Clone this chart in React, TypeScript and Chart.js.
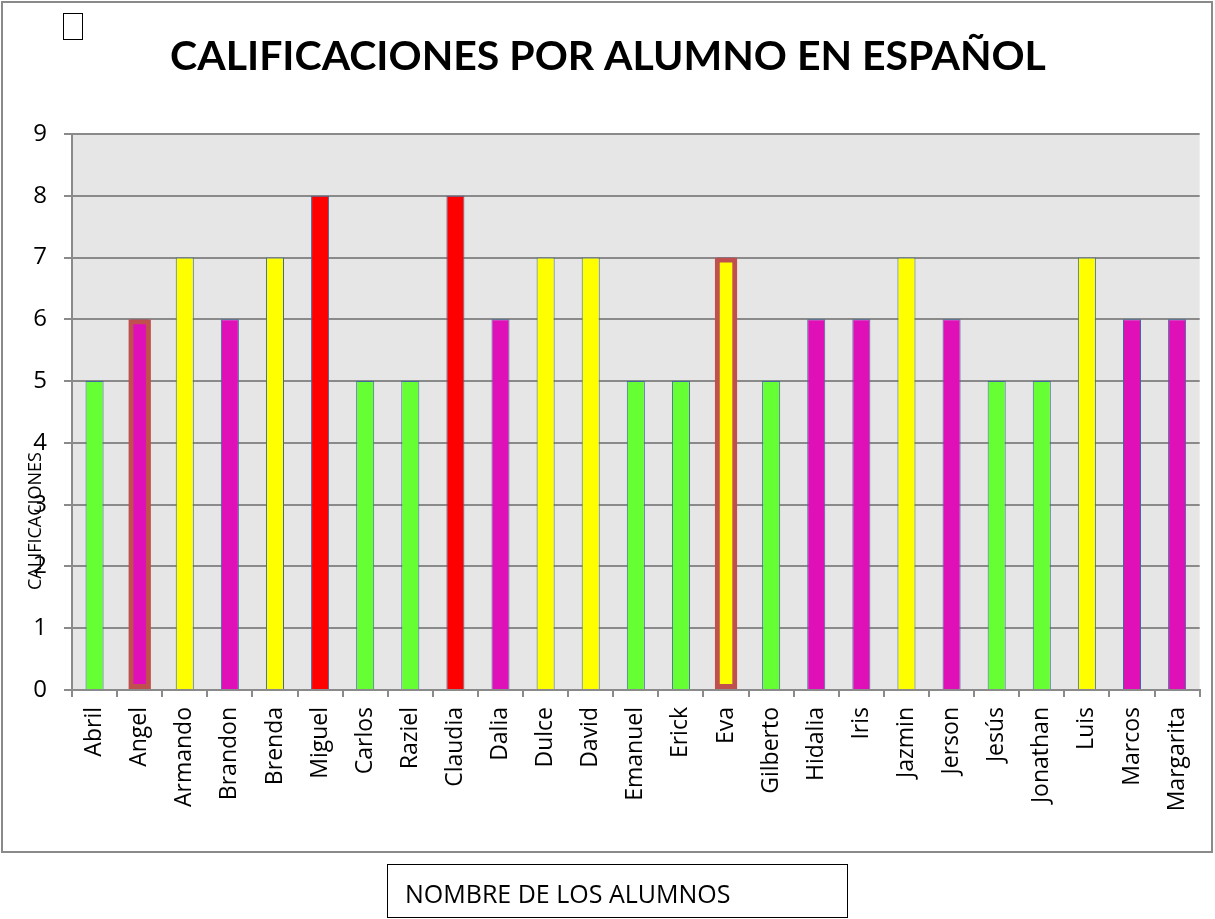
import React, { useEffect, useRef } from "react";
import { Chart, registerables } from "chart.js";

Chart.register(...registerables);

const students = [
  "Abril", "Angel", "Armando", "Brandon", "Brenda", "Miguel", "Carlos", "Raziel",
  "Claudia", "Dalia", "Dulce", "David", "Emanuel", "Erick", "Eva", "Gilberto",
  "Hidalia", "Iris", "Jazmin", "Jerson", "Jesús", "Jonathan", "Luis", "Marcos", "Margarita",
];
const grades = [5, 6, 7, 6, 7, 8, 5, 5, 8, 6, 7, 7, 5, 5, 7, 5, 6, 6, 7, 6, 5, 5, 7, 6, 6];
const highlighted = ["Angel", "Eva"];
const gradeColors: Record<number, string> = {
  5: "#66FF33",
  6: "#E010B9",
  7: "#FFFF00",
  8: "#FF0000",
};
const yMin = 0;
const yMax = 9;
const titleText = "CALIFICACIONES POR ALUMNO EN ESPAÑOL";
const yAxisTitle = "CALIFICACIONES";
const xAxisTitle = "NOMBRE DE LOS ALUMNOS";

const TITLE_FONT = "Lato";
const FONT = "'Open Sans'";

const decorPlugin = {
  id: "decor",
  beforeDraw(chart: any) {
    const { ctx, chartArea, width, height } = chart;
    ctx.save();
    ctx.fillStyle = "#FFFFFF";
    ctx.fillRect(0, 0, width, height);
    ctx.fillStyle = "#E6E6E6";
    ctx.fillRect(chartArea.left, chartArea.top, chartArea.right - chartArea.left, chartArea.bottom - chartArea.top);
    // outer frame
    ctx.strokeStyle = "#8A8A8A";
    ctx.lineWidth = 2;
    ctx.strokeRect(2, 2, 1210, 850);
    ctx.restore();
  },
  afterDraw(chart: any) {
    const { ctx } = chart;
    ctx.save();
    // small empty square
    ctx.strokeStyle = "#000000";
    ctx.lineWidth = 1;
    ctx.strokeRect(63.5, 13.5, 19, 26);
    // title
    ctx.fillStyle = "#000000";
    ctx.font = `bold 41px ${TITLE_FONT}`;
    ctx.textAlign = "center";
    ctx.textBaseline = "alphabetic";
    ctx.fillText(titleText, 608, 70);
    // y axis title
    ctx.save();
    ctx.translate(41, 521);
    ctx.rotate(-Math.PI / 2);
    ctx.font = `18px ${FONT}`;
    ctx.textAlign = "center";
    ctx.textBaseline = "alphabetic";
    ctx.fillText(yAxisTitle, 0, 0);
    ctx.restore();
    // bottom box
    ctx.fillStyle = "#FFFFFF";
    ctx.fillRect(387, 864, 461, 54);
    ctx.strokeStyle = "#000000";
    ctx.lineWidth = 1;
    ctx.strokeRect(387.5, 864.5, 460, 53);
    ctx.fillStyle = "#000000";
    ctx.font = `25px ${FONT}`;
    ctx.textAlign = "left";
    ctx.fillText(xAxisTitle, 405, 903);
    ctx.restore();
  },
};

export default function App() {
  const ref = useRef<HTMLCanvasElement | null>(null);
  useEffect(() => {
    if (!ref.current) return;
    const overlay = students.map((s, i) => (highlighted.includes(s) ? grades[i] : null));
    const chart = new Chart(ref.current, {
      type: "bar",
      data: {
        labels: students,
        datasets: [
          {
            data: grades,
            backgroundColor: grades.map((g) => gradeColors[g]),
            borderColor: "#41699A",
            borderWidth: 1,
            barPercentage: 0.4,
            categoryPercentage: 1,
            grouped: false,
            order: 2,
          },
          {
            data: overlay,
            backgroundColor: "rgba(0,0,0,0)",
            borderColor: "#C0504D",
            borderWidth: 5,
            borderSkipped: false,
            barPercentage: 0.5,
            categoryPercentage: 1,
            grouped: false,
            order: 1,
          },
        ],
      },
      options: {
        responsive: false,
        animation: false,
        devicePixelRatio: 1,
        layout: { padding: { left: 0, top: 134, right: 15, bottom: 0 } },
        plugins: { legend: { display: false }, tooltip: { enabled: false }, title: { display: false } },
        scales: {
          x: {
            grid: { display: true, drawOnChartArea: false, offset: true, tickLength: 7, color: "#8A8A8A", lineWidth: 2 },
            border: { color: "#8A8A8A", width: 2 },
            ticks: {
              minRotation: 90,
              maxRotation: 90,
              autoSkip: false,
              padding: 10,
              color: "#000000",
              font: { family: FONT, size: 23 },
            },
            afterFit: (s: any) => {
              s.height = 229;
            },
          },
          y: {
            min: yMin,
            max: yMax,
            ticks: { stepSize: 1, padding: 17, color: "#000000", font: { family: FONT, size: 24 } },
            grid: { color: "#8A8A8A", lineWidth: 2, tickLength: 8 },
            border: { color: "#8A8A8A", width: 2 },
            afterFit: (s: any) => {
              s.width = 72;
            },
          },
        },
      },
      plugins: [decorPlugin],
    });
    return () => chart.destroy();
  }, []);
  return (
    <div style={{ position: "absolute", left: 0, top: 0, width: 1215, height: 919 }}>
      <canvas ref={ref} width={1215} height={919} style={{ display: "block", width: 1215, height: 919 }} />
    </div>
  );
}
